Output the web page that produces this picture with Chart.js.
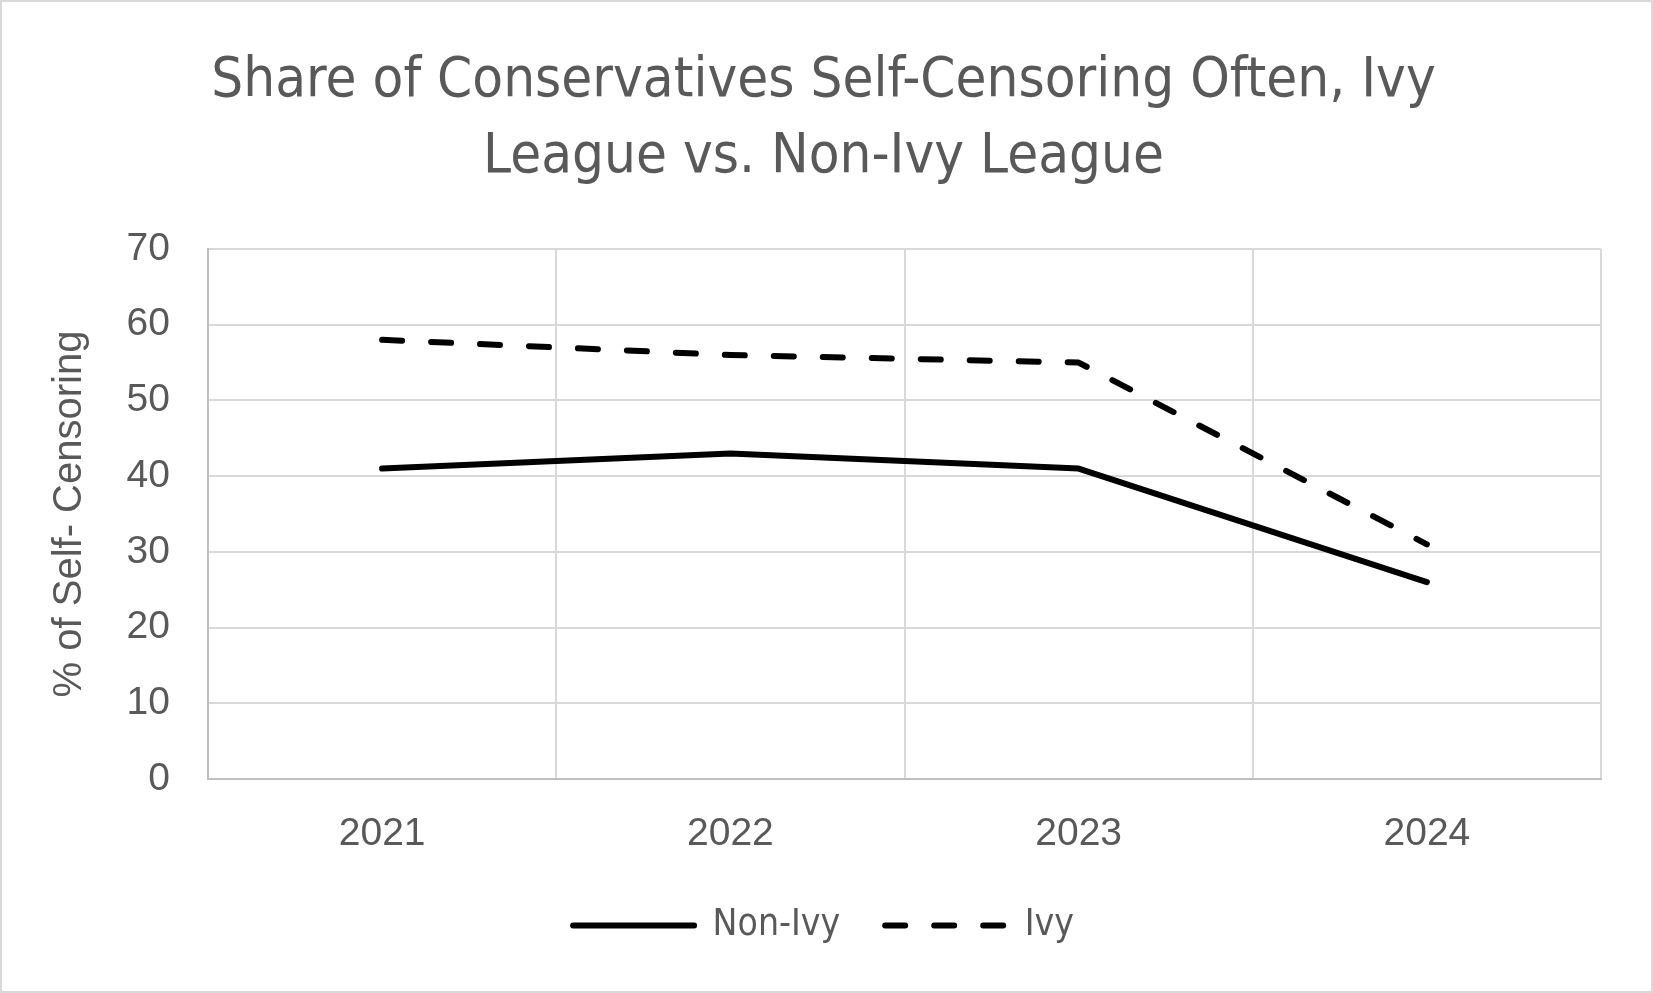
<!DOCTYPE html>
<html><head><meta charset="utf-8">
<script src="https://cdn.jsdelivr.net/npm/chart.js@4.4.1/dist/chart.umd.min.js"></script>
<style>html,body{margin:0;padding:0;background:#fff;overflow:hidden}canvas{display:block}</style>
</head><body>
<canvas id="c" width="1653" height="993"></canvas>
<script>
const categories = ['2021', '2022', '2023', '2024'];
const nonIvy = [41, 43, 41, 26];
const ivy = [58, 56, 55, 31];
const yTicks = [0, 10, 20, 30, 40, 50, 60, 70];
const titleLines = ['Share of Conservatives Self-Censoring Often, Ivy', 'League vs. Non-Ivy League'];
const yTitle = '% of Self- Censoring';
const seriesNames = ['Non-Ivy', 'Ivy'];

const TEXT = '#595959';
const NARROW = "'Liberation Sans Narrow', 'DejaVu Sans Condensed', 'Roboto Condensed', Roboto, sans-serif";
const ARIAL = "'Liberation Sans', Arial, sans-serif";

const framePlugin = {
  id: 'frame',
  beforeDraw(chart) {
    const c = chart.ctx; c.save(); c.fillStyle = '#fff'; c.fillRect(0, 0, chart.width, chart.height); c.restore();
  },
  afterDraw(chart) {
    const c = chart.ctx; c.save(); c.strokeStyle = '#d9d9d9'; c.lineWidth = 2;
    c.strokeRect(1, 1, chart.width - 2, chart.height - 2); c.restore();
  }
};

new Chart(document.getElementById('c'), {
  type: 'line',
  data: {
    labels: categories,
    datasets: [
      { label: seriesNames[0], data: nonIvy, borderColor: '#000', backgroundColor: '#000', borderWidth: 6,
        borderCapStyle: 'round', borderJoinStyle: 'round', pointRadius: 0, tension: 0 },
      { label: seriesNames[1], data: ivy, borderColor: '#000', backgroundColor: '#000', borderWidth: 6,
        borderDash: [20, 29], borderCapStyle: 'round', borderJoinStyle: 'round', pointRadius: 0, tension: 0 }
    ]
  },
  options: {
    responsive: false,
    animation: false,
    devicePixelRatio: 1,
    layout: { padding: { top: 10, left: 46, right: 52, bottom: 39 } },
    plugins: {
      title: { display: true, text: titleLines, color: TEXT,
        font: { family: NARROW, size: 56, weight: 'normal', lineHeight: 76 / 56 },
        padding: { top: 33, bottom: 54 } },
      legend: { position: 'bottom',
        labels: { usePointStyle: true, pointStyle: 'line', pointStyleWidth: 121, color: TEXT,
          font: { family: NARROW, size: 37 }, padding: 45,
          generateLabels(chart) {
            return chart.data.datasets.map((ds, i) => ({
              text: ds.label, fillStyle: ds.borderColor, strokeStyle: ds.borderColor,
              lineWidth: ds.borderWidth, lineDash: ds.borderDash || [], lineCap: 'round',
              pointStyle: 'line', hidden: false, datasetIndex: i, fontColor: TEXT
            }));
          } } },
      tooltip: { enabled: false }
    },
    scales: {
      x: {
        offset: true,
        grid: { offset: true, color: '#d9d9d9', lineWidth: 2, drawTicks: false },
        border: { color: '#bfbfbf', width: 2 },
        ticks: { color: TEXT, font: { family: ARIAL, size: 39 }, padding: 32 },
        afterFit(scale) { scale.height = 83; }
      },
      y: {
        min: 0, max: 70,
        afterBuildTicks(scale) { scale.ticks = yTicks.map(v => ({ value: v })); },
        grid: { color: '#d9d9d9', lineWidth: 2, drawTicks: false },
        border: { color: '#bfbfbf', width: 2 },
        ticks: { color: TEXT, font: { family: ARIAL, size: 39 }, padding: 38 },
        title: { display: true, text: yTitle, color: TEXT, font: { family: ARIAL, size: 40 }, padding: 0 },
        afterFit(scale) { scale.width = 162; }
      }
    }
  },
  plugins: [framePlugin]
});
</script>
</body></html>
